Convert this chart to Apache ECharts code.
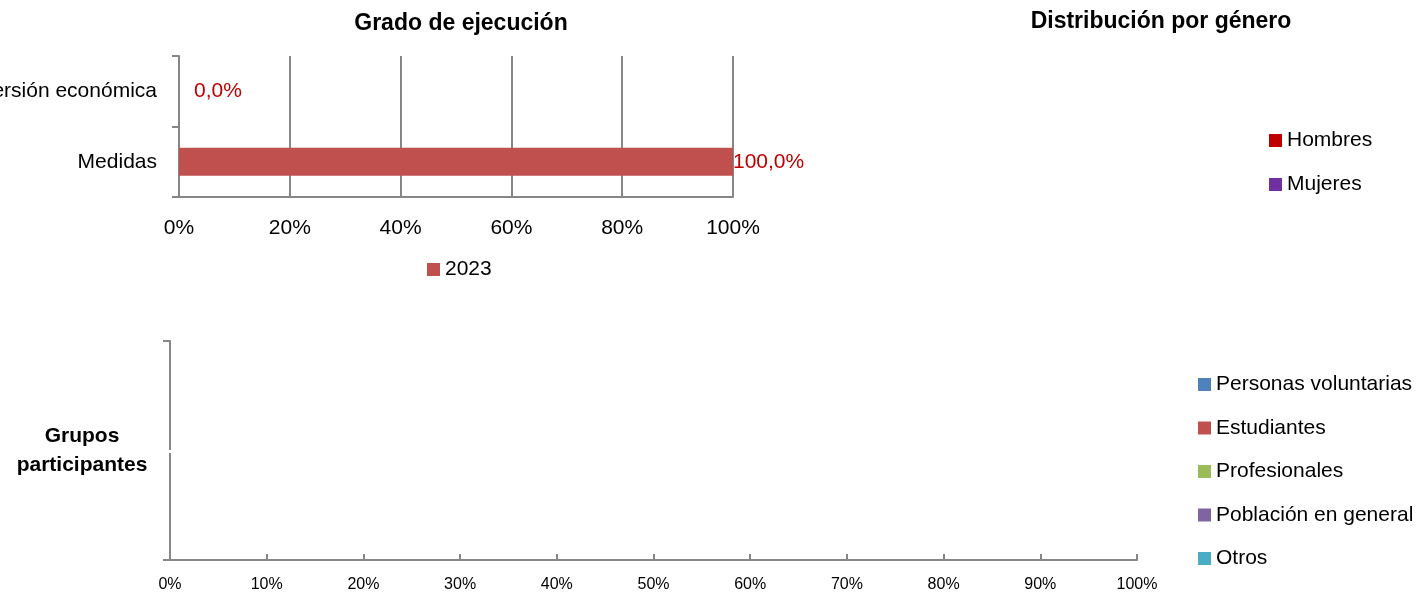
<!DOCTYPE html>
<html>
<head>
<meta charset="utf-8">
<script src="https://cdn.jsdelivr.net/npm/echarts@6/dist/echarts.min.js"></script>
<style>
    html, body { margin: 0; padding: 0; background: #fff; }
    #main { width: 1427px; height: 594px; }
</style>
</head>
<body>
<div id="main"></div>
<script>
// 数据
const ejecCategorias = ['Medidas', 'Inversión económica']
const ejecValores = [100, 0]
const ejecSerie = '2023'

const generoNombres = ['Hombres', 'Mujeres']
const generoValores = [0, 0]
const generoColores = ['#c00000', '#7030a0']

const grupoCategoria = ['Grupos\nparticipantes']
const grupoNombres = ['Personas voluntarias', 'Estudiantes', 'Profesionales', 'Población en general', 'Otros']
const grupoValores = [[0], [0], [0], [0], [0]]
const grupoColores = ['#4f81bd', '#c0504d', '#9bbb59', '#8064a2', '#4bacc6']

const FONT = '"Liberation Sans", Arial, sans-serif'
const GRIS = '#868686'

const chart = echarts.init(document.getElementById('main'))

const pct = (v) => v.toFixed(1).replace('.', ',') + '%'

const legendText = { fontSize: 21, color: '#000', lineHeight: 21 }

const option = {
    animation: false,
    textStyle: { fontFamily: FONT },
    title: [
        {
            text: 'Grado de ejecución',
            left: 456,
            top: 7,
            textAlign: 'center',
            textStyle: { fontSize: 23, fontWeight: 'bold', color: '#000', fontFamily: FONT },
        },
        {
            text: 'Distribución por género',
            left: 1156,
            top: 5,
            textAlign: 'center',
            textStyle: { fontSize: 23, fontWeight: 'bold', color: '#000', fontFamily: FONT },
        },
    ],
    legend: [
        {
            data: [ejecSerie],
            left: 427,
            top: 259,
            padding: 0,
            itemWidth: 13,
            itemHeight: 13,
            icon: 'rect',
            textStyle: legendText,
        },
        {
            data: generoNombres,
            orient: 'vertical',
            left: 1269,
            top: 130,
            padding: 0,
            itemWidth: 13,
            itemHeight: 13,
            itemGap: 23,
            icon: 'rect',
            textStyle: legendText,
        },
        {
            data: grupoNombres,
            orient: 'vertical',
            left: 1198,
            top: 374,
            padding: 0,
            itemWidth: 13,
            itemHeight: 13,
            itemGap: 22.5,
            icon: 'rect',
            textStyle: legendText,
        },
    ],
    grid: [
        { left: 179, top: 56, width: 554, height: 141, outerBoundsMode: 'none', containLabel: false },
        { left: 170, top: 341, width: 967, height: 219, outerBoundsMode: 'none', containLabel: false },
    ],
    xAxis: [
        {
            gridIndex: 0,
            type: 'value',
            min: 0,
            max: 100,
            interval: 20,
            axisLine: { show: true, lineStyle: { color: GRIS, width: 2 } },
            axisTick: { show: false },
            axisLabel: { formatter: '{value}%', fontSize: 21, color: '#000', margin: 21 },
            splitLine: { show: true, lineStyle: { color: GRIS, width: 2 } },
        },
        {
            gridIndex: 1,
            type: 'value',
            min: 0,
            max: 100,
            interval: 10,
            axisLine: { show: true, lineStyle: { color: GRIS, width: 2 } },
            axisTick: { show: true, inside: true, length: 6, lineStyle: { color: GRIS, width: 2 } },
            axisLabel: { formatter: '{value}%', fontSize: 16, color: '#000', margin: 17 },
            splitLine: { show: false },
        },
    ],
    yAxis: [
        {
            gridIndex: 0,
            type: 'category',
            data: ejecCategorias,
            axisLine: { show: true, lineStyle: { color: GRIS, width: 2 } },
            axisTick: { show: true, length: 7, lineStyle: { color: GRIS, width: 2 } },
            axisLabel: { fontSize: 21, color: '#000', margin: 22 },
        },
        {
            gridIndex: 1,
            type: 'category',
            data: grupoCategoria,
            axisLine: { show: true, lineStyle: { color: GRIS, width: 2 } },
            axisTick: { show: true, length: 7, lineStyle: { color: GRIS, width: 2 } },
            axisLabel: {
                fontSize: 21,
                fontWeight: 'bold',
                color: '#000',
                align: 'center',
                lineHeight: 29,
                margin: 88,
            },
        },
    ],
    // 坐标轴上的小缺口
    graphic: [
        {
            type: 'rect',
            shape: { x: 167, y: 450, width: 6, height: 3 },
            style: { fill: '#fff' },
            z: 100,
        },
    ],
    series: [
        {
            name: ejecSerie,
            type: 'bar',
            xAxisIndex: 0,
            yAxisIndex: 0,
            barWidth: 28,
            itemStyle: { color: '#c0504d' },
            data: ejecValores.map((v) => ({
                value: v,
                label: { distance: v === 0 ? 15 : 0 },
            })),
            label: {
                show: true,
                position: 'right',
                fontSize: 21,
                color: '#c00000',
                formatter: (p) => pct(p.value),
            },
        },
        {
            name: 'Distribución por género',
            type: 'pie',
            center: [1156, 160],
            radius: 70,
            stillShowZeroSum: false,
            showEmptyCircle: false,
            label: { show: false },
            labelLine: { show: false },
            data: generoNombres.map((n, i) => ({
                name: n,
                value: generoValores[i],
                itemStyle: { color: generoColores[i] },
            })),
        },
        ...grupoNombres.map((n, i) => ({
            name: n,
            type: 'bar',
            xAxisIndex: 1,
            yAxisIndex: 1,
            stack: 'grupos',
            barWidth: '60%',
            itemStyle: { color: grupoColores[i] },
            data: grupoValores[i],
        })),
    ],
}

chart.setOption(option)

window.addEventListener('resize', () => {
    chart.resize()
})
</script>
</body>
</html>
